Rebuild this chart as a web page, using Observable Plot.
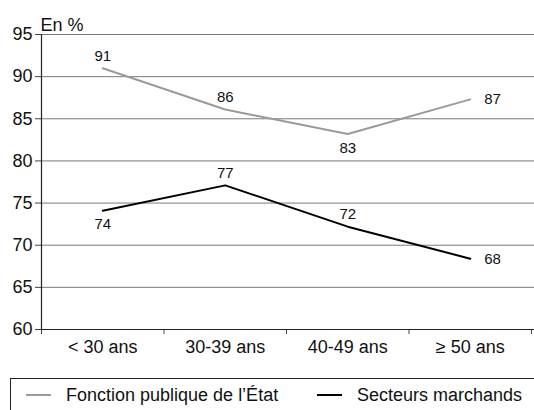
<!DOCTYPE html>
<html>
<head>
<meta charset="utf-8">
<script src="https://cdn.jsdelivr.net/npm/d3@7"></script>
<script src="https://cdn.jsdelivr.net/npm/@observablehq/plot@0.6"></script>
<style>
  body { margin: 0; background: #fff; font-family: "Liberation Sans", Arial, sans-serif; overflow: hidden; }
  #chart svg { display: block; }
  .legend { position: absolute; left: 10px; top: 378px; width: 540px; height: 40px; border: 1.5px solid #222; box-sizing: border-box; font-size: 18px; color: #111; }
  .item { position: absolute; top: 5px; height: 22px; display: flex; align-items: center; white-space: nowrap; }
  .sw { display: inline-block; width: 25px; height: 0; border-top: 2px solid; margin-right: 15px; }
</style>
</head>
<body>
<div id="chart"></div>
<div class="legend">
  <div class="item" style="left:15px"><span class="sw" style="border-color:#9a9a9a"></span><span id="l0"></span></div>
  <div class="item" style="left:306px"><span class="sw" style="border-color:#000"></span><span id="l1"></span></div>
</div>
<script>
const categories = ["< 30 ans", "30-39 ans", "40-49 ans", "≥ 50 ans"];
const seriesNames = ["Fonction publique de l’État", "Secteurs marchands"];
const fonctionPublique = [91.0, 86.1, 83.2, 87.3];
const secteursMarchands = [74.1, 77.1, 72.2, 68.4];
const yTicks = [60, 65, 70, 75, 80, 85, 90, 95];

document.getElementById("l0").textContent = seriesNames[0];
document.getElementById("l1").textContent = seriesNames[1];

const rows = [];
categories.forEach((c, i) => {
  rows.push({series: seriesNames[0], i, cat: c, value: fonctionPublique[i]});
  rows.push({series: seriesNames[1], i, cat: c, value: secteursMarchands[i]});
});
const colors = {[seriesNames[0]]: "#9a9a9a", [seriesNames[1]]: "#000"};

// label placement: above / below / right of the point
const place = (d) => {
  if (d.i === categories.length - 1) return "right";
  if (d.series === seriesNames[0]) return d.i === 2 ? "below" : "above";
  return d.i === 0 ? "below" : "above";
};
const lab = (p) => rows.filter(d => place(d) === p);
const cx = d => d.i + 0.5;

const plot = Plot.plot({
  width: 534,
  height: 370,
  marginLeft: 41,
  marginRight: 3,
  marginTop: 34,
  marginBottom: 41,
  style: {fontFamily: "Liberation Sans, Arial, sans-serif", fontSize: "18px", color: "#111", background: "#fff"},
  x: {type: "linear", domain: [0, categories.length]},
  y: {domain: [60, 95]},
  marks: [
    Plot.ruleY(yTicks.filter(t => t > 60), {stroke: "#7a7a7a", strokeWidth: 1, x1: 0, x2: categories.length, insetRight: -3}),
    Plot.axisX(d3.range(categories.length + 1), {tickSize: 5, tickFormat: () => "", stroke: "#444"}),
    Plot.axisX(categories.map((c, i) => i + 0.5), {tickSize: 0, tickPadding: 11, tickFormat: (v) => categories[Math.floor(v)], label: null, fontSize: 18}),
    Plot.axisY(yTicks, {tickSize: 6, tickPadding: 3, label: null, fontSize: 18, stroke: "#444"}),
    Plot.ruleY([60], {stroke: "#222", strokeWidth: 1.2, insetRight: -3}),
    Plot.ruleX([0], {stroke: "#222", strokeWidth: 1.2}),
    Plot.line(rows, {x: cx, y: "value", z: "series", stroke: d => colors[d.series], strokeWidth: 2}),
    Plot.text(lab("above"), {x: cx, y: "value", text: d => Math.round(d.value), dy: -12, fontSize: 15, fill: "#111"}),
    Plot.text(lab("below"), {x: cx, y: "value", text: d => Math.round(d.value), dy: 14, fontSize: 15, fill: "#111"}),
    Plot.text(lab("right"), {x: cx, y: "value", text: d => Math.round(d.value), dx: 14, textAnchor: "start", fontSize: 15, fill: "#111"}),
    Plot.text(["En %"], {frameAnchor: "top-left", text: d => d, textAnchor: "start", dx: -1, dy: -16, fontSize: 18, fill: "#111"})
  ]
});
document.getElementById("chart").append(plot);
</script>
</body>
</html>
